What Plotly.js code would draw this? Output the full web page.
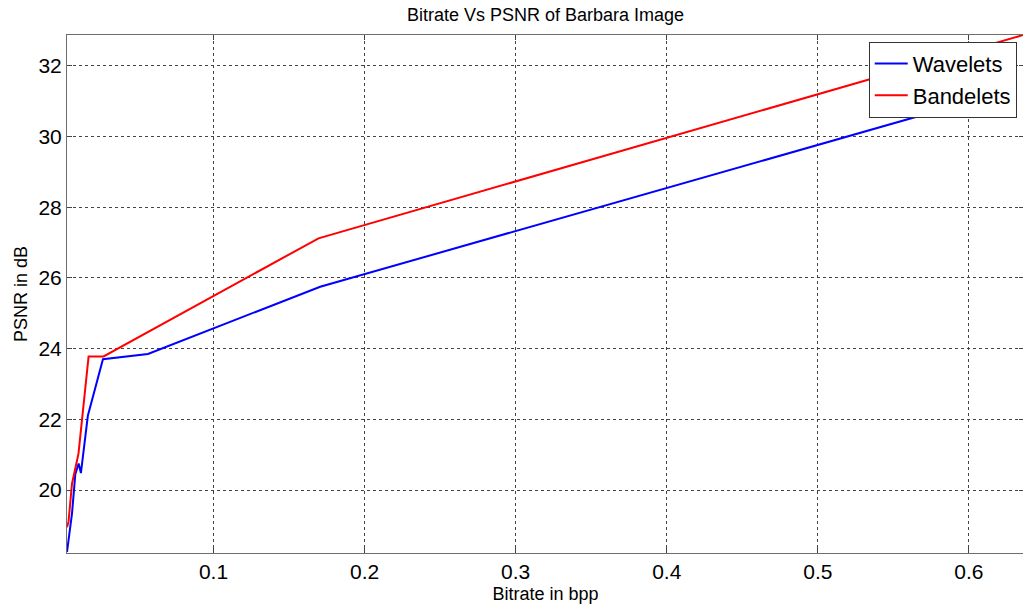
<!DOCTYPE html>
<html>
<head>
<meta charset="utf-8">
<script src="https://cdn.plot.ly/plotly-3.0.1.min.js"></script>
<style>html,body{margin:0;padding:0;background:#fff;overflow:hidden;}</style>
</head>
<body>
<div id="chart" style="width:1025px;height:605px;"></div>
<script>
var waveletsX = [0.0030, 0.0052, 0.0063, 0.0085, 0.0107, 0.0122, 0.0168, 0.0268, 0.0566, 0.1706, 0.6100];
var waveletsY = [18.25, 18.90, 19.33, 20.45, 20.75, 20.48, 22.10, 23.70, 23.85, 25.75, 31.10];
var bandeletsX = [0.0030, 0.0040, 0.0063, 0.0085, 0.0106, 0.0173, 0.0272, 0.1695, 0.6360];
var bandeletsY = [18.95, 19.10, 20.18, 20.65, 21.03, 23.78, 23.78, 27.12, 32.87];
var xTicks = [0.1, 0.2, 0.3, 0.4, 0.5, 0.6];
var yTicks = [20, 22, 24, 26, 28, 30, 32];

var font = 'Liberation Sans, Arial, sans-serif';
var traces = [
  {x: waveletsX, y: waveletsY, type: 'scatter', mode: 'lines', name: 'Wavelets',
   line: {color: '#0000ff', width: 2}},
  {x: bandeletsX, y: bandeletsY, type: 'scatter', mode: 'lines', name: 'Bandelets',
   line: {color: '#ff0000', width: 2}}
];
var axisCommon = {
  showline: true, linecolor: '#6e6e6e', linewidth: 1, mirror: 'ticks',
  ticks: 'inside', ticklen: 5, tickcolor: '#444', tickwidth: 1,
  showgrid: true, gridcolor: '#444', griddash: 'dot', gridwidth: 1,
  zeroline: false, tickfont: {family: font, size: 21, color: '#000'}
};
var layout = {
  width: 1025, height: 605,
  margin: {l: 67, r: 1, t: 35, b: 52},
  paper_bgcolor: '#fff', plot_bgcolor: '#fff',
  title: {text: 'Bitrate Vs PSNR of Barbara Image', font: {family: font, size: 18, color: '#000'},
          x: 0.5, xref: 'paper', xanchor: 'center', y: 0.976, yanchor: 'middle'},
  xaxis: Object.assign({}, axisCommon, {
    range: [0.003, 0.6365], tickvals: xTicks, ticktext: xTicks.map(String),
    title: {text: 'Bitrate in bpp', font: {family: font, size: 18, color: '#000'}, standoff: 5}
  }),
  yaxis: Object.assign({}, axisCommon, {
    range: [18.22, 32.87], tickvals: yTicks, ticktext: yTicks.map(String),
    title: {text: 'PSNR in dB', font: {family: font, size: 18, color: '#000'}, standoff: 6}
  }),
  showlegend: true,
  legend: {x: 0.9924, y: 0.987, xanchor: 'right', yanchor: 'top',
           bgcolor: '#fff', bordercolor: '#333', borderwidth: 1,
           font: {family: font, size: 22, color: '#000'}, tracegroupgap: 0, itemwidth: 33}
};
Plotly.newPlot('chart', traces, layout, {displayModeBar: false, staticPlot: true});
</script>
</body>
</html>
